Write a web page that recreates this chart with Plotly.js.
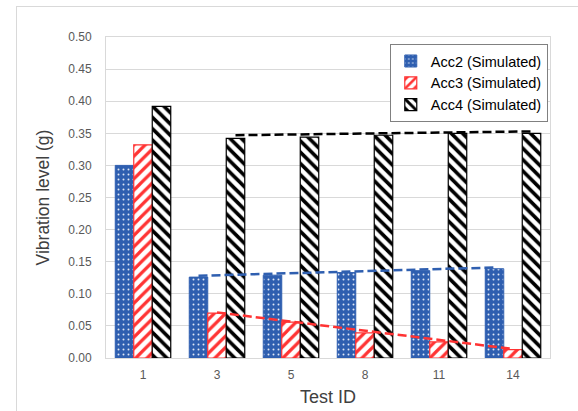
<!DOCTYPE html>
<html>
<head>
<meta charset="utf-8">
<script src="https://cdn.plot.ly/plotly-3.0.1.min.js"></script>
<style>
  html, body { margin: 0; padding: 0; background: #ffffff; overflow: hidden; }
  #frame { position: absolute; left: 16px; top: 6px; width: 700px; height: 600px; border: 1px solid #d9d9d9; }
  #chart { position: absolute; left: 0; top: 0; width: 578px; height: 411px; }
</style>
</head>
<body>
<div id="frame"></div>
<div id="chart"></div>
<script>
// ---- data ----
const testIds = ["1", "3", "5", "8", "11", "14"];
const seriesNames = ["Acc2 (Simulated)", "Acc3 (Simulated)", "Acc4 (Simulated)"];
const acc2 = [0.300, 0.126, 0.129, 0.133, 0.136, 0.139];
const acc3 = [0.332, 0.070, 0.056, 0.039, 0.025, 0.013];
const acc4 = [0.392, 0.342, 0.344, 0.347, 0.350, 0.350];
// dashed trend lines (value at Test ID 3 and at Test ID 14)
const trendStart = [0.128, 0.071, 0.347];
const trendEnd   = [0.141, 0.014, 0.353];
const trendFrom = 1;  // category index of Test ID 3
const trendTo   = 5;  // category index of Test ID 14

const blue = "#2F5FB0", red = "#FF3333", black = "#000000";
const idx = testIds.map((_, i) => i);
const barW = 0.25;

const traces = [
  {
    type: "bar", name: seriesNames[0], x: idx, y: acc2,
    marker: { color: blue, line: { color: blue, width: 1 },
      pattern: { shape: ".", fgcolor: "#dfe7f5", bgcolor: blue, size: 5, solidity: 0.12 } }
  },
  {
    type: "bar", name: seriesNames[1], x: idx, y: acc3,
    marker: { color: "#ffffff", line: { color: red, width: 1.2 },
      pattern: { shape: "/", fgcolor: red, bgcolor: "#ffffff", size: 8, solidity: 0.4 } }
  },
  {
    type: "bar", name: seriesNames[2], x: idx, y: acc4,
    marker: { color: "#ffffff", line: { color: black, width: 1.2 },
      pattern: { shape: "\\", fgcolor: black, bgcolor: "#ffffff", size: 8, solidity: 0.45 } }
  }
];
const colors = [blue, red, black];
for (let k = 0; k < 3; k++) {
  const off = (k - 1) * barW;
  traces.push({
    type: "scatter", mode: "lines", showlegend: false,
    x: [trendFrom + off, trendTo + off], y: [trendStart[k], trendEnd[k]],
    line: { color: colors[k], width: 2.5, dash: "9px,4px" }
  });
}

const layout = {
  width: 578, height: 411,
  margin: { l: 106, r: 28, t: 37, b: 53 },
  paper_bgcolor: "rgba(0,0,0,0)", plot_bgcolor: "#ffffff",
  barmode: "group", bargap: 0.25, bargroupgap: 0,
  font: { family: "Liberation Sans, Arial, sans-serif", color: "#595959", size: 12 },
  hovermode: false,
  xaxis: {
    type: "linear", range: [-0.5, 5.5], tickvals: idx, ticktext: testIds,
    showgrid: false, zeroline: false, showline: true, linecolor: "#d9d9d9", mirror: true,
    ticks: "outside", ticklen: 6, tickcolor: "rgba(0,0,0,0)", tickfont: { size: 12, color: "#595959" },
    title: { text: "Test ID", font: { size: 18, color: "#404040" }, standoff: 8 }
  },
  yaxis: {
    range: [0, 0.5], dtick: 0.05, tickformat: ".2f",
    showgrid: true, gridcolor: "#d9d9d9", zeroline: false,
    showline: true, linecolor: "#d9d9d9", mirror: true,
    ticks: "outside", ticklen: 11, tickcolor: "rgba(0,0,0,0)", tickfont: { size: 12, color: "#595959" },
    title: { text: "Vibration level (g)", font: { size: 17.5, color: "#404040" }, standoff: 14 }
  },
  legend: {
    x: 0.995, xanchor: "right", y: 0.978, yanchor: "top",
    bgcolor: "#ffffff", bordercolor: "#808080", borderwidth: 1,
    font: { size: 14.5, color: "#000000" }, tracegroupgap: 0, itemwidth: 30
  },
  showlegend: true
};

Plotly.newPlot("chart", traces, layout, { displayModeBar: false, staticPlot: true });
</script>
</body>
</html>
